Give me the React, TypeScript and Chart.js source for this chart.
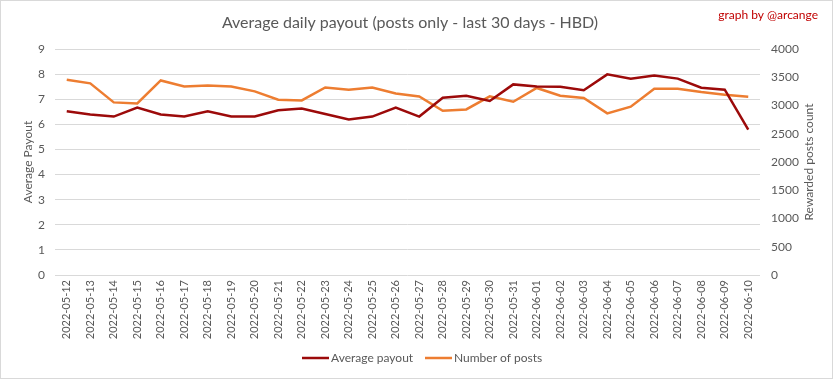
import React, { useEffect, useRef } from "react";
import { Chart, registerables } from "chart.js";

Chart.register(...registerables);

const dates = [
  "2022-05-12", "2022-05-13", "2022-05-14", "2022-05-15", "2022-05-16", "2022-05-17",
  "2022-05-18", "2022-05-19", "2022-05-20", "2022-05-21", "2022-05-22", "2022-05-23",
  "2022-05-24", "2022-05-25", "2022-05-26", "2022-05-27", "2022-05-28", "2022-05-29",
  "2022-05-30", "2022-05-31", "2022-06-01", "2022-06-02", "2022-06-03", "2022-06-04",
  "2022-06-05", "2022-06-06", "2022-06-07", "2022-06-08", "2022-06-09", "2022-06-10",
];

const avgPayout = [
  6.52, 6.39, 6.31, 6.67, 6.39, 6.31, 6.52, 6.31, 6.31, 6.56,
  6.63, 6.41, 6.19, 6.31, 6.67, 6.31, 7.06, 7.14, 6.93, 7.59,
  7.51, 7.5, 7.36, 7.99, 7.82, 7.94, 7.82, 7.46, 7.38, 5.79,
];

const numPosts = [
  3457, 3392, 3055, 3037, 3444, 3338, 3356, 3338, 3250, 3103,
  3090, 3320, 3280, 3320, 3214, 3161, 2908, 2931, 3161, 3067,
  3310, 3173, 3133, 2860, 2979, 3297, 3297, 3239, 3191, 3156,
];

const leftTicksMax = 9;
const rightTicksMax = 4000;

const titleText = "Average daily payout (posts only - last 30 days - HBD)";
const creditText = "graph by @arcange";
const leftTitle = "Average Payout";
const rightTitle = "Rewarded posts count";
const seriesNames = ["Average payout", "Number of posts"];

const RED = "#9c0a0a";
const ORANGE = "#ed7d31";
const GREY = "#595959";
const GRID = "#d9d9d9";
const FONT = "Lato";

const decorPlugin = {
  id: "decor",
  beforeDraw(chart: any) {
    const ctx = chart.ctx;
    ctx.save();
    ctx.fillStyle = "#ffffff";
    ctx.fillRect(0, 0, chart.width, chart.height);
    ctx.restore();
  },
  afterDraw(chart: any) {
    const ctx = chart.ctx;
    ctx.save();
    // border
    ctx.strokeStyle = GRID;
    ctx.lineWidth = 1;
    ctx.strokeRect(0.5, 0.5, chart.width - 1, chart.height - 1);
    // title
    ctx.fillStyle = GREY;
    ctx.font = `16px ${FONT}`;
    ctx.textAlign = "center";
    ctx.textBaseline = "middle";
    ctx.fillText(titleText, 410, 23);
    // credit
    ctx.fillStyle = "#c00000";
    ctx.font = `12px ${FONT}`;
    ctx.textAlign = "right";
    ctx.fillText(creditText, 818, 15);
    // right axis title
    const area = chart.chartArea;
    ctx.save();
    ctx.translate(809, (area.top + area.bottom) / 2);
    ctx.rotate(-Math.PI / 2);
    ctx.fillStyle = GREY;
    ctx.font = `12px ${FONT}`;
    ctx.textAlign = "center";
    ctx.textBaseline = "middle";
    ctx.fillText(rightTitle, 0, 0);
    ctx.restore();
    // legend
    const items = [
      { label: seriesNames[0], color: RED, x: 302 },
      { label: seriesNames[1], color: ORANGE, x: 425 },
    ];
    const ly = 358;
    ctx.font = `12px ${FONT}`;
    ctx.textAlign = "left";
    ctx.textBaseline = "middle";
    for (const it of items) {
      ctx.strokeStyle = it.color;
      ctx.lineWidth = 2.5;
      ctx.beginPath();
      ctx.moveTo(it.x, ly);
      ctx.lineTo(it.x + 27, ly);
      ctx.stroke();
      ctx.fillStyle = GREY;
      ctx.fillText(it.label, it.x + 29, ly);
    }
    ctx.restore();
  },
};

export default function App() {
  const ref = useRef<HTMLCanvasElement>(null);
  useEffect(() => {
    document.body.style.margin = "0";
    const canvas = ref.current!;
    const chart = new Chart(canvas, {
      type: "line",
      data: {
        labels: dates,
        datasets: [
          {
            label: seriesNames[0],
            data: avgPayout,
            borderColor: RED,
            backgroundColor: RED,
            borderWidth: 2.5,
            pointRadius: 0,
            tension: 0,
            yAxisID: "y",
          },
          {
            label: seriesNames[1],
            data: numPosts,
            borderColor: ORANGE,
            backgroundColor: ORANGE,
            borderWidth: 2.5,
            pointRadius: 0,
            tension: 0,
            yAxisID: "y1",
          },
        ],
      },
      options: {
        animation: false,
        responsive: false,
        maintainAspectRatio: false,
        layout: { padding: { top: 49, left: 0, right: 0, bottom: 0 } },
        plugins: {
          legend: { display: false },
          title: { display: false },
          tooltip: { enabled: false },
        },
        scales: {
          x: {
            offset: true,
            grid: { display: false, drawTicks: false },
            border: { display: false },
            ticks: {
              color: GREY,
              font: { family: FONT, size: 11 },
              minRotation: 90,
              maxRotation: 90,
              autoSkip: false,
              padding: 5,
            },
            afterFit(scale: any) {
              scale.height = 104;
            },
          },
          y: {
            position: "left",
            min: 0,
            max: leftTicksMax,
            ticks: {
              stepSize: 1,
              color: GREY,
              font: { family: FONT, size: 12 },
              padding: 10,
              callback: (v: any) => String(v),
            },
            grid: { color: GRID, drawTicks: false, lineWidth: 1 },
            border: { display: false },
            title: {
              display: true,
              text: leftTitle,
              color: GREY,
              font: { family: FONT, size: 12 },
              padding: { top: 21, bottom: 0 },
            },
            afterFit(scale: any) {
              scale.width = 55;
            },
          },
          y1: {
            position: "right",
            min: 0,
            max: rightTicksMax,
            ticks: {
              stepSize: 500,
              color: GREY,
              font: { family: FONT, size: 12 },
              padding: 11,
              callback: (v: any) => String(v),
            },
            grid: { display: false, drawTicks: false },
            border: { display: false },
            afterFit(scale: any) {
              scale.width = 73;
            },
          },
        },
      },
      plugins: [decorPlugin],
    });
    return () => chart.destroy();
  }, []);
  return (
    <div style={{ width: 833, height: 379 }}>
      <canvas ref={ref} width={833} height={379} style={{ display: "block" }} />
    </div>
  );
}
